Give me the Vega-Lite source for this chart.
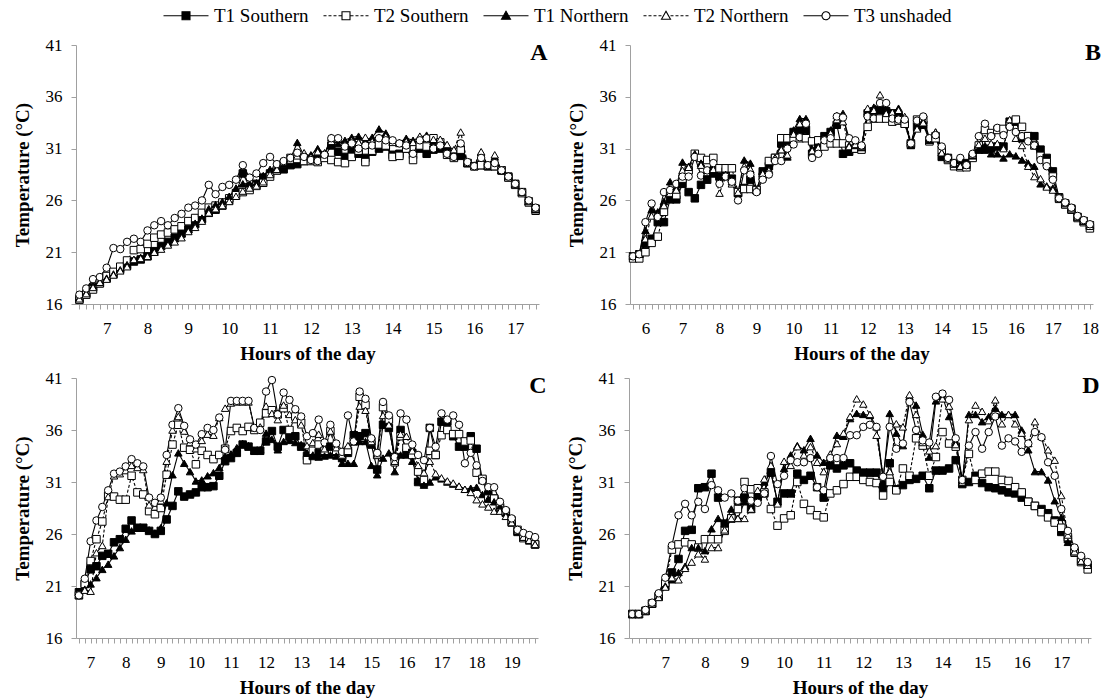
{
  "$schema": "https://vega.github.io/schema/vega-lite/v6.json",
  "padding": {"left": 13, "top": 6, "right": 2, "bottom": 2},
  "background": "white",
  "datasets": {
    "A": [
      {"m":380,"T1S":16.5,"T2S":16.4,"T1N":16.6,"T2N":16.5,"T3":16.9},
      {"m":390,"T1S":17.0,"T2S":16.9,"T1N":17.1,"T2N":17.0,"T3":17.5},
      {"m":400,"T1S":17.6,"T2S":17.4,"T1N":17.7,"T2N":17.6,"T3":18.4},
      {"m":410,"T1S":18.0,"T2S":18.0,"T1N":18.2,"T2N":18.1,"T3":18.6},
      {"m":420,"T1S":18.5,"T2S":18.7,"T1N":18.5,"T2N":18.4,"T3":19.5},
      {"m":430,"T1S":18.9,"T2S":19.1,"T1N":18.9,"T2N":18.8,"T3":21.4},
      {"m":440,"T1S":19.4,"T2S":19.6,"T1N":19.3,"T2N":19.2,"T3":21.3},
      {"m":450,"T1S":19.7,"T2S":20.2,"T1N":19.8,"T2N":19.6,"T3":22.0},
      {"m":460,"T1S":20.1,"T2S":21.2,"T1N":20.3,"T2N":20.3,"T3":22.3},
      {"m":470,"T1S":20.3,"T2S":21.3,"T1N":20.5,"T2N":20.4,"T3":22.0},
      {"m":480,"T1S":20.6,"T2S":21.8,"T1N":20.7,"T2N":20.6,"T3":23.1},
      {"m":490,"T1S":21.1,"T2S":22.4,"T1N":21.0,"T2N":21.0,"T3":23.6},
      {"m":500,"T1S":21.6,"T2S":22.7,"T1N":21.6,"T2N":21.3,"T3":24.0},
      {"m":510,"T1S":22.0,"T2S":22.9,"T1N":21.9,"T2N":21.7,"T3":23.6},
      {"m":520,"T1S":22.4,"T2S":23.2,"T1N":22.3,"T2N":22.0,"T3":24.3},
      {"m":530,"T1S":22.8,"T2S":23.5,"T1N":22.8,"T2N":22.4,"T3":24.7},
      {"m":540,"T1S":23.2,"T2S":24.0,"T1N":23.2,"T2N":23.0,"T3":25.3},
      {"m":550,"T1S":23.7,"T2S":24.3,"T1N":23.8,"T2N":23.4,"T3":25.5},
      {"m":560,"T1S":24.2,"T2S":24.8,"T1N":24.3,"T2N":24.0,"T3":26.0},
      {"m":570,"T1S":24.8,"T2S":25.3,"T1N":25.2,"T2N":24.8,"T3":27.5},
      {"m":580,"T1S":25.1,"T2S":25.5,"T1N":25.6,"T2N":25.2,"T3":26.6},
      {"m":590,"T1S":25.5,"T2S":25.8,"T1N":25.9,"T2N":25.5,"T3":27.3},
      {"m":600,"T1S":26.0,"T2S":26.2,"T1N":26.4,"T2N":25.9,"T3":27.5},
      {"m":610,"T1S":26.7,"T2S":26.5,"T1N":27.2,"T2N":26.4,"T3":28.0},
      {"m":620,"T1S":28.6,"T2S":26.8,"T1N":27.6,"T2N":26.9,"T3":29.4},
      {"m":630,"T1S":27.3,"T2S":27.0,"T1N":27.6,"T2N":27.2,"T3":28.2},
      {"m":640,"T1S":27.6,"T2S":27.4,"T1N":27.7,"T2N":27.4,"T3":28.6},
      {"m":650,"T1S":28.2,"T2S":27.7,"T1N":28.4,"T2N":27.8,"T3":29.6},
      {"m":660,"T1S":28.6,"T2S":28.3,"T1N":29.0,"T2N":28.5,"T3":30.2},
      {"m":670,"T1S":28.9,"T2S":28.9,"T1N":29.2,"T2N":29.0,"T3":29.5},
      {"m":680,"T1S":29.0,"T2S":29.5,"T1N":29.5,"T2N":29.7,"T3":29.8},
      {"m":690,"T1S":29.4,"T2S":30.1,"T1N":30.0,"T2N":29.9,"T3":30.1},
      {"m":700,"T1S":29.5,"T2S":30.0,"T1N":31.6,"T2N":30.3,"T3":30.6},
      {"m":710,"T1S":29.8,"T2S":29.8,"T1N":30.3,"T2N":30.6,"T3":30.2},
      {"m":720,"T1S":29.9,"T2S":29.8,"T1N":30.4,"T2N":30.2,"T3":29.9},
      {"m":730,"T1S":30.0,"T2S":29.7,"T1N":31.0,"T2N":30.7,"T3":29.8},
      {"m":740,"T1S":30.2,"T2S":30.1,"T1N":30.5,"T2N":30.6,"T3":30.4},
      {"m":750,"T1S":31.3,"T2S":29.9,"T1N":32.1,"T2N":31.7,"T3":32.0},
      {"m":760,"T1S":30.7,"T2S":29.7,"T1N":31.5,"T2N":31.9,"T3":32.0},
      {"m":770,"T1S":30.2,"T2S":29.6,"T1N":31.8,"T2N":31.4,"T3":31.2},
      {"m":780,"T1S":30.9,"T2S":30.2,"T1N":32.1,"T2N":31.8,"T3":31.5},
      {"m":790,"T1S":30.5,"T2S":30.8,"T1N":32.2,"T2N":31.6,"T3":31.0},
      {"m":800,"T1S":30.1,"T2S":29.7,"T1N":31.8,"T2N":32.1,"T3":31.3},
      {"m":810,"T1S":30.7,"T2S":30.8,"T1N":32.1,"T2N":31.7,"T3":31.3},
      {"m":820,"T1S":31.0,"T2S":31.4,"T1N":32.9,"T2N":32.1,"T3":32.0},
      {"m":830,"T1S":31.2,"T2S":31.3,"T1N":32.5,"T2N":32.2,"T3":31.8},
      {"m":840,"T1S":30.4,"T2S":30.2,"T1N":31.7,"T2N":31.6,"T3":31.8},
      {"m":850,"T1S":30.5,"T2S":30.3,"T1N":31.6,"T2N":31.5,"T3":31.5},
      {"m":860,"T1S":31.0,"T2S":31.0,"T1N":32.0,"T2N":31.7,"T3":31.3},
      {"m":870,"T1S":30.4,"T2S":29.9,"T1N":31.8,"T2N":31.6,"T3":30.5},
      {"m":880,"T1S":31.0,"T2S":31.3,"T1N":32.1,"T2N":32.2,"T3":31.8},
      {"m":890,"T1S":30.5,"T2S":31.2,"T1N":32.3,"T2N":32.0,"T3":32.0},
      {"m":900,"T1S":30.9,"T2S":32.0,"T1N":31.7,"T2N":31.9,"T3":31.0},
      {"m":910,"T1S":31.0,"T2S":31.6,"T1N":31.7,"T2N":31.9,"T3":31.3},
      {"m":920,"T1S":30.7,"T2S":30.4,"T1N":31.3,"T2N":31.4,"T3":30.5},
      {"m":930,"T1S":30.2,"T2S":30.1,"T1N":30.8,"T2N":30.9,"T3":30.2},
      {"m":940,"T1S":30.3,"T2S":30.9,"T1N":31.5,"T2N":32.6,"T3":31.5},
      {"m":950,"T1S":29.6,"T2S":29.6,"T1N":29.6,"T2N":29.6,"T3":29.7},
      {"m":960,"T1S":29.3,"T2S":29.3,"T1N":29.4,"T2N":29.4,"T3":29.3},
      {"m":970,"T1S":29.4,"T2S":29.4,"T1N":30.6,"T2N":30.7,"T3":30.1},
      {"m":980,"T1S":29.3,"T2S":29.3,"T1N":29.4,"T2N":29.3,"T3":29.4},
      {"m":990,"T1S":29.3,"T2S":29.3,"T1N":30.2,"T2N":30.4,"T3":29.6},
      {"m":1000,"T1S":28.9,"T2S":28.9,"T1N":28.9,"T2N":28.9,"T3":28.9},
      {"m":1010,"T1S":28.3,"T2S":28.2,"T1N":28.4,"T2N":28.3,"T3":28.3},
      {"m":1020,"T1S":27.6,"T2S":27.5,"T1N":27.6,"T2N":27.6,"T3":27.6},
      {"m":1030,"T1S":26.8,"T2S":26.7,"T1N":26.8,"T2N":26.8,"T3":26.8},
      {"m":1040,"T1S":25.9,"T2S":25.8,"T1N":25.9,"T2N":25.9,"T3":26.0},
      {"m":1050,"T1S":25.2,"T2S":25.0,"T1N":25.1,"T2N":25.2,"T3":25.3}
    ],
    "B": [
      {"m":340,"T1S":20.6,"T2S":20.4,"T1N":20.7,"T2N":20.6,"T3":20.6},
      {"m":350,"T1S":20.8,"T2S":20.4,"T1N":20.9,"T2N":20.8,"T3":20.8},
      {"m":360,"T1S":21.8,"T2S":21.0,"T1N":23.1,"T2N":22.3,"T3":23.9},
      {"m":370,"T1S":22.3,"T2S":21.9,"T1N":25.1,"T2N":24.5,"T3":25.7},
      {"m":380,"T1S":23.9,"T2S":22.5,"T1N":24.9,"T2N":24.6,"T3":24.4},
      {"m":390,"T1S":23.9,"T2S":24.9,"T1N":25.9,"T2N":25.5,"T3":26.8},
      {"m":400,"T1S":26.1,"T2S":26.7,"T1N":27.8,"T2N":26.7,"T3":27.0},
      {"m":410,"T1S":26.1,"T2S":26.5,"T1N":27.3,"T2N":27.0,"T3":27.6},
      {"m":420,"T1S":27.6,"T2S":28.1,"T1N":29.7,"T2N":28.9,"T3":28.3},
      {"m":430,"T1S":26.8,"T2S":28.9,"T1N":29.3,"T2N":29.2,"T3":28.3},
      {"m":440,"T1S":26.2,"T2S":30.5,"T1N":30.5,"T2N":30.3,"T3":30.2},
      {"m":450,"T1S":27.5,"T2S":30.1,"T1N":29.6,"T2N":29.4,"T3":28.4},
      {"m":460,"T1S":28.0,"T2S":29.9,"T1N":28.9,"T2N":28.7,"T3":28.9},
      {"m":470,"T1S":28.6,"T2S":30.1,"T1N":29.4,"T2N":29.0,"T3":29.6},
      {"m":480,"T1S":28.3,"T2S":29.1,"T1N":28.3,"T2N":26.7,"T3":27.6},
      {"m":490,"T1S":28.8,"T2S":29.1,"T1N":28.5,"T2N":28.3,"T3":28.3},
      {"m":500,"T1S":28.1,"T2S":29.1,"T1N":27.8,"T2N":27.6,"T3":27.8},
      {"m":510,"T1S":26.7,"T2S":26.8,"T1N":26.7,"T2N":26.8,"T3":26.0},
      {"m":520,"T1S":27.2,"T2S":27.1,"T1N":29.9,"T2N":29.3,"T3":28.9},
      {"m":530,"T1S":28.0,"T2S":27.1,"T1N":29.6,"T2N":29.0,"T3":28.5},
      {"m":540,"T1S":27.0,"T2S":27.0,"T1N":27.0,"T2N":27.0,"T3":26.8},
      {"m":550,"T1S":28.8,"T2S":28.3,"T1N":28.8,"T2N":28.6,"T3":28.0},
      {"m":560,"T1S":29.3,"T2S":29.8,"T1N":29.0,"T2N":28.9,"T3":28.5},
      {"m":570,"T1S":30.1,"T2S":30.1,"T1N":30.1,"T2N":30.1,"T3":29.8},
      {"m":580,"T1S":31.5,"T2S":32.0,"T1N":30.9,"T2N":30.9,"T3":29.8},
      {"m":590,"T1S":31.5,"T2S":32.0,"T1N":30.2,"T2N":30.4,"T3":31.0},
      {"m":600,"T1S":32.6,"T2S":32.0,"T1N":32.8,"T2N":32.4,"T3":31.4},
      {"m":610,"T1S":32.8,"T2S":32.0,"T1N":33.9,"T2N":33.4,"T3":32.1},
      {"m":620,"T1S":32.8,"T2S":32.0,"T1N":33.9,"T2N":33.5,"T3":33.4},
      {"m":630,"T1S":30.5,"T2S":31.7,"T1N":31.0,"T2N":30.8,"T3":30.1},
      {"m":640,"T1S":31.2,"T2S":31.8,"T1N":31.2,"T2N":31.1,"T3":30.5},
      {"m":650,"T1S":32.2,"T2S":31.2,"T1N":32.2,"T2N":31.9,"T3":31.8},
      {"m":660,"T1S":32.6,"T2S":31.5,"T1N":32.8,"T2N":32.5,"T3":32.0},
      {"m":670,"T1S":33.3,"T2S":31.5,"T1N":34.2,"T2N":33.8,"T3":34.1},
      {"m":680,"T1S":30.5,"T2S":31.5,"T1N":34.4,"T2N":33.6,"T3":34.0},
      {"m":690,"T1S":30.7,"T2S":31.3,"T1N":31.3,"T2N":31.2,"T3":32.0},
      {"m":700,"T1S":31.0,"T2S":31.0,"T1N":31.3,"T2N":31.4,"T3":31.8},
      {"m":710,"T1S":31.0,"T2S":30.9,"T1N":31.1,"T2N":31.2,"T3":31.3},
      {"m":720,"T1S":34.4,"T2S":33.1,"T1N":34.6,"T2N":34.9,"T3":34.1},
      {"m":730,"T1S":34.6,"T2S":33.9,"T1N":35.0,"T2N":34.7,"T3":33.9},
      {"m":740,"T1S":34.7,"T2S":33.9,"T1N":35.0,"T2N":36.2,"T3":35.4},
      {"m":750,"T1S":34.6,"T2S":33.9,"T1N":34.7,"T2N":34.4,"T3":35.4},
      {"m":760,"T1S":34.4,"T2S":33.6,"T1N":34.5,"T2N":34.5,"T3":33.9},
      {"m":770,"T1S":34.2,"T2S":33.7,"T1N":34.9,"T2N":34.7,"T3":33.8},
      {"m":780,"T1S":33.4,"T2S":33.4,"T1N":33.9,"T2N":34.1,"T3":33.8},
      {"m":790,"T1S":31.5,"T2S":31.4,"T1N":31.3,"T2N":31.6,"T3":31.5},
      {"m":800,"T1S":33.1,"T2S":33.8,"T1N":33.0,"T2N":32.9,"T3":33.7},
      {"m":810,"T1S":33.3,"T2S":33.8,"T1N":33.7,"T2N":33.5,"T3":34.1},
      {"m":820,"T1S":31.8,"T2S":31.7,"T1N":31.8,"T2N":32.0,"T3":32.0},
      {"m":830,"T1S":32.2,"T2S":32.0,"T1N":32.6,"T2N":32.6,"T3":32.3},
      {"m":840,"T1S":30.2,"T2S":30.9,"T1N":30.6,"T2N":30.6,"T3":31.2},
      {"m":850,"T1S":30.1,"T2S":29.9,"T1N":30.2,"T2N":30.0,"T3":30.1},
      {"m":860,"T1S":29.6,"T2S":29.3,"T1N":29.6,"T2N":29.5,"T3":29.6},
      {"m":870,"T1S":29.6,"T2S":29.2,"T1N":29.5,"T2N":29.3,"T3":30.1},
      {"m":880,"T1S":29.6,"T2S":29.2,"T1N":29.5,"T2N":29.4,"T3":29.4},
      {"m":890,"T1S":30.2,"T2S":30.1,"T1N":30.3,"T2N":30.4,"T3":30.5},
      {"m":900,"T1S":30.9,"T2S":31.3,"T1N":31.0,"T2N":31.4,"T3":32.2},
      {"m":910,"T1S":30.9,"T2S":32.8,"T1N":31.3,"T2N":32.0,"T3":33.4},
      {"m":920,"T1S":31.0,"T2S":32.5,"T1N":30.5,"T2N":31.5,"T3":32.2},
      {"m":930,"T1S":31.2,"T2S":32.8,"T1N":30.5,"T2N":31.5,"T3":33.0},
      {"m":940,"T1S":31.2,"T2S":32.9,"T1N":30.1,"T2N":31.0,"T3":32.3},
      {"m":950,"T1S":33.6,"T2S":33.3,"T1N":30.5,"T2N":33.8,"T3":33.1},
      {"m":960,"T1S":33.6,"T2S":33.8,"T1N":30.3,"T2N":32.0,"T3":32.6},
      {"m":970,"T1S":32.0,"T2S":33.1,"T1N":29.9,"T2N":31.3,"T3":32.2},
      {"m":980,"T1S":32.2,"T2S":32.2,"T1N":29.6,"T2N":29.3,"T3":31.7},
      {"m":990,"T1S":32.2,"T2S":31.3,"T1N":29.3,"T2N":28.3,"T3":31.3},
      {"m":1000,"T1S":30.9,"T2S":30.3,"T1N":27.6,"T2N":28.1,"T3":29.9},
      {"m":1010,"T1S":30.1,"T2S":29.7,"T1N":27.4,"T2N":27.3,"T3":29.3},
      {"m":1020,"T1S":28.8,"T2S":28.3,"T1N":27.2,"T2N":27.0,"T3":28.0},
      {"m":1030,"T1S":26.3,"T2S":26.2,"T1N":26.2,"T2N":26.1,"T3":26.2},
      {"m":1040,"T1S":25.7,"T2S":25.6,"T1N":25.7,"T2N":25.7,"T3":25.8},
      {"m":1050,"T1S":25.2,"T2S":25.1,"T1N":25.2,"T2N":25.2,"T3":25.3},
      {"m":1060,"T1S":24.4,"T2S":24.3,"T1N":24.4,"T2N":24.4,"T3":24.5},
      {"m":1070,"T1S":24.0,"T2S":23.9,"T1N":24.0,"T2N":24.0,"T3":24.1},
      {"m":1080,"T1S":23.6,"T2S":23.3,"T1N":23.6,"T2N":23.5,"T3":23.7}
    ],
    "C": [
      {"m":400,"T1S":20.4,"T2S":20.1,"T1N":20.2,"T2N":20.1,"T3":20.1},
      {"m":410,"T1S":21.2,"T2S":21.2,"T1N":20.7,"T2N":20.6,"T3":21.7},
      {"m":420,"T1S":22.6,"T2S":23.4,"T1N":21.2,"T2N":20.5,"T3":25.3},
      {"m":430,"T1S":22.9,"T2S":25.5,"T1N":21.8,"T2N":24.2,"T3":27.3},
      {"m":440,"T1S":23.9,"T2S":27.2,"T1N":22.6,"T2N":24.9,"T3":28.6},
      {"m":450,"T1S":24.1,"T2S":29.7,"T1N":23.1,"T2N":29.6,"T3":30.2},
      {"m":460,"T1S":25.2,"T2S":29.6,"T1N":23.9,"T2N":31.6,"T3":31.8},
      {"m":470,"T1S":25.5,"T2S":29.3,"T1N":24.7,"T2N":31.8,"T3":32.0},
      {"m":480,"T1S":26.5,"T2S":29.3,"T1N":25.5,"T2N":32.1,"T3":32.5},
      {"m":490,"T1S":27.3,"T2S":31.6,"T1N":26.3,"T2N":32.6,"T3":33.2},
      {"m":500,"T1S":26.6,"T2S":30.0,"T1N":26.6,"T2N":32.4,"T3":32.8},
      {"m":510,"T1S":26.6,"T2S":29.8,"T1N":26.6,"T2N":32.2,"T3":32.5},
      {"m":520,"T1S":26.3,"T2S":28.2,"T1N":26.4,"T2N":28.8,"T3":29.5},
      {"m":530,"T1S":26.0,"T2S":27.9,"T1N":26.1,"T2N":28.6,"T3":29.0},
      {"m":540,"T1S":26.3,"T2S":28.5,"T1N":26.6,"T2N":29.2,"T3":29.5},
      {"m":550,"T1S":27.4,"T2S":31.7,"T1N":29.0,"T2N":33.0,"T3":33.6},
      {"m":560,"T1S":28.7,"T2S":34.6,"T1N":31.7,"T2N":36.0,"T3":36.5},
      {"m":570,"T1S":30.1,"T2S":36.5,"T1N":33.8,"T2N":37.3,"T3":38.1},
      {"m":580,"T1S":29.6,"T2S":34.3,"T1N":32.8,"T2N":35.9,"T3":36.4},
      {"m":590,"T1S":29.8,"T2S":34.1,"T1N":32.0,"T2N":34.8,"T3":35.1},
      {"m":600,"T1S":30.0,"T2S":32.7,"T1N":31.1,"T2N":34.2,"T3":34.6},
      {"m":610,"T1S":30.5,"T2S":34.0,"T1N":31.2,"T2N":35.0,"T3":35.6},
      {"m":620,"T1S":30.5,"T2S":33.6,"T1N":31.6,"T2N":35.6,"T3":36.2},
      {"m":630,"T1S":30.6,"T2S":33.2,"T1N":31.9,"T2N":35.5,"T3":36.0},
      {"m":640,"T1S":31.6,"T2S":33.6,"T1N":32.4,"T2N":37.2,"T3":37.2},
      {"m":650,"T1S":33.0,"T2S":34.2,"T1N":33.5,"T2N":38.1,"T3":34.1},
      {"m":660,"T1S":33.3,"T2S":35.9,"T1N":33.7,"T2N":38.6,"T3":38.8},
      {"m":670,"T1S":33.8,"T2S":36.2,"T1N":34.3,"T2N":38.7,"T3":38.8},
      {"m":680,"T1S":34.6,"T2S":35.9,"T1N":34.7,"T2N":38.7,"T3":38.8},
      {"m":690,"T1S":34.4,"T2S":36.3,"T1N":34.5,"T2N":38.7,"T3":38.8},
      {"m":700,"T1S":34.0,"T2S":36.0,"T1N":34.0,"T2N":36.2,"T3":36.2},
      {"m":710,"T1S":34.0,"T2S":36.7,"T1N":34.1,"T2N":36.3,"T3":36.0},
      {"m":720,"T1S":34.9,"T2S":37.6,"T1N":35.7,"T2N":38.3,"T3":39.7},
      {"m":730,"T1S":35.9,"T2S":37.9,"T1N":35.1,"T2N":37.6,"T3":40.8},
      {"m":740,"T1S":34.4,"T2S":37.5,"T1N":34.1,"T2N":37.0,"T3":37.5},
      {"m":750,"T1S":36.0,"T2S":38.1,"T1N":34.9,"T2N":38.4,"T3":39.6},
      {"m":760,"T1S":35.4,"T2S":36.0,"T1N":35.0,"T2N":37.5,"T3":38.9},
      {"m":770,"T1S":35.4,"T2S":37.3,"T1N":34.8,"T2N":37.0,"T3":38.0},
      {"m":780,"T1S":34.4,"T2S":36.7,"T1N":34.6,"T2N":36.5,"T3":37.3},
      {"m":790,"T1S":33.5,"T2S":33.1,"T1N":33.8,"T2N":34.5,"T3":35.4},
      {"m":800,"T1S":33.5,"T2S":34.0,"T1N":33.6,"T2N":34.8,"T3":35.7},
      {"m":810,"T1S":33.8,"T2S":34.6,"T1N":33.4,"T2N":35.6,"T3":37.0},
      {"m":820,"T1S":33.8,"T2S":34.0,"T1N":33.5,"T2N":34.2,"T3":34.8},
      {"m":830,"T1S":34.4,"T2S":35.9,"T1N":33.6,"T2N":35.9,"T3":36.5},
      {"m":840,"T1S":33.9,"T2S":34.0,"T1N":33.5,"T2N":34.3,"T3":34.7},
      {"m":850,"T1S":33.3,"T2S":33.6,"T1N":32.8,"T2N":33.6,"T3":33.9},
      {"m":860,"T1S":33.8,"T2S":34.0,"T1N":32.8,"T2N":34.5,"T3":37.4},
      {"m":870,"T1S":35.5,"T2S":34.9,"T1N":32.8,"T2N":35.0,"T3":34.9},
      {"m":880,"T1S":35.4,"T2S":39.2,"T1N":34.9,"T2N":38.3,"T3":39.7},
      {"m":890,"T1S":35.7,"T2S":38.4,"T1N":34.9,"T2N":37.9,"T3":39.0},
      {"m":900,"T1S":34.6,"T2S":34.9,"T1N":32.6,"T2N":34.9,"T3":35.2},
      {"m":910,"T1S":32.2,"T2S":33.6,"T1N":31.7,"T2N":33.6,"T3":33.8},
      {"m":920,"T1S":36.5,"T2S":38.2,"T1N":33.3,"T2N":37.4,"T3":38.7},
      {"m":930,"T1S":36.2,"T2S":37.0,"T1N":33.8,"T2N":36.5,"T3":37.4},
      {"m":940,"T1S":33.4,"T2S":32.9,"T1N":32.0,"T2N":33.0,"T3":33.4},
      {"m":950,"T1S":36.0,"T2S":35.4,"T1N":33.6,"T2N":35.6,"T3":37.6},
      {"m":960,"T1S":33.8,"T2S":34.3,"T1N":33.6,"T2N":35.4,"T3":37.0},
      {"m":970,"T1S":33.8,"T2S":33.6,"T1N":33.0,"T2N":34.0,"T3":34.6},
      {"m":980,"T1S":31.0,"T2S":32.0,"T1N":31.2,"T2N":32.6,"T3":33.6},
      {"m":990,"T1S":30.9,"T2S":31.2,"T1N":30.7,"T2N":31.9,"T3":33.1},
      {"m":1000,"T1S":36.2,"T2S":34.0,"T1N":31.0,"T2N":33.0,"T3":36.2},
      {"m":1010,"T1S":33.6,"T2S":33.6,"T1N":31.5,"T2N":31.8,"T3":34.4},
      {"m":1020,"T1S":36.8,"T2S":35.5,"T1N":31.3,"T2N":31.4,"T3":37.6},
      {"m":1030,"T1S":36.8,"T2S":36.0,"T1N":31.0,"T2N":31.1,"T3":37.0},
      {"m":1040,"T1S":35.4,"T2S":35.6,"T1N":30.8,"T2N":30.9,"T3":37.4},
      {"m":1050,"T1S":34.4,"T2S":35.6,"T1N":30.6,"T2N":30.6,"T3":36.5},
      {"m":1060,"T1S":34.4,"T2S":34.9,"T1N":30.3,"T2N":30.3,"T3":32.8},
      {"m":1070,"T1S":35.4,"T2S":35.0,"T1N":30.4,"T2N":30.0,"T3":33.8},
      {"m":1080,"T1S":34.2,"T2S":31.9,"T1N":30.5,"T2N":29.3,"T3":32.6},
      {"m":1090,"T1S":31.2,"T2S":31.3,"T1N":29.8,"T2N":28.9,"T3":31.1},
      {"m":1100,"T1S":29.8,"T2S":29.4,"T1N":29.4,"T2N":28.6,"T3":30.5},
      {"m":1110,"T1S":29.4,"T2S":29.4,"T1N":29.1,"T2N":28.2,"T3":30.5},
      {"m":1120,"T1S":28.5,"T2S":28.6,"T1N":28.7,"T2N":28.2,"T3":29.1},
      {"m":1130,"T1S":28.1,"T2S":28.1,"T1N":28.0,"T2N":27.7,"T3":28.3},
      {"m":1140,"T1S":27.3,"T2S":27.1,"T1N":27.2,"T2N":27.1,"T3":27.5},
      {"m":1150,"T1S":26.2,"T2S":26.4,"T1N":26.3,"T2N":26.3,"T3":26.4},
      {"m":1160,"T1S":25.7,"T2S":25.6,"T1N":25.7,"T2N":25.7,"T3":26.1},
      {"m":1170,"T1S":25.4,"T2S":25.4,"T1N":25.4,"T2N":25.4,"T3":25.9},
      {"m":1180,"T1S":25.0,"T2S":25.0,"T1N":25.0,"T2N":25.0,"T3":25.7}
    ],
    "D": [
      {"m":370,"T1S":18.3,"T2S":18.3,"T1N":18.3,"T2N":18.3,"T3":18.3},
      {"m":380,"T1S":18.3,"T2S":18.3,"T1N":18.3,"T2N":18.3,"T3":18.3},
      {"m":390,"T1S":18.6,"T2S":18.6,"T1N":18.6,"T2N":18.6,"T3":18.7},
      {"m":400,"T1S":19.3,"T2S":19.3,"T1N":19.3,"T2N":19.3,"T3":19.4},
      {"m":410,"T1S":20.0,"T2S":20.0,"T1N":20.0,"T2N":19.9,"T3":20.3},
      {"m":420,"T1S":21.0,"T2S":21.3,"T1N":21.0,"T2N":20.9,"T3":21.8},
      {"m":430,"T1S":22.3,"T2S":24.5,"T1N":21.6,"T2N":21.8,"T3":24.9},
      {"m":440,"T1S":23.6,"T2S":25.0,"T1N":22.3,"T2N":21.6,"T3":27.8},
      {"m":450,"T1S":26.3,"T2S":25.2,"T1N":22.9,"T2N":22.7,"T3":28.9},
      {"m":460,"T1S":26.4,"T2S":25.0,"T1N":24.7,"T2N":23.3,"T3":27.8},
      {"m":470,"T1S":30.4,"T2S":24.7,"T1N":24.7,"T2N":24.1,"T3":29.1},
      {"m":480,"T1S":30.5,"T2S":25.5,"T1N":24.4,"T2N":23.6,"T3":28.4},
      {"m":490,"T1S":31.8,"T2S":25.5,"T1N":26.5,"T2N":24.7,"T3":30.7},
      {"m":500,"T1S":29.5,"T2S":25.5,"T1N":27.5,"T2N":24.7,"T3":30.2},
      {"m":510,"T1S":27.0,"T2S":26.3,"T1N":27.0,"T2N":26.4,"T3":29.5},
      {"m":520,"T1S":27.5,"T2S":27.5,"T1N":28.4,"T2N":27.5,"T3":29.9},
      {"m":530,"T1S":29.2,"T2S":28.4,"T1N":27.5,"T2N":27.5,"T3":29.2},
      {"m":540,"T1S":29.5,"T2S":31.0,"T1N":29.1,"T2N":27.5,"T3":30.4},
      {"m":550,"T1S":28.4,"T2S":30.3,"T1N":28.4,"T2N":28.4,"T3":29.2},
      {"m":560,"T1S":29.6,"T2S":30.4,"T1N":29.5,"T2N":30.2,"T3":29.0},
      {"m":570,"T1S":29.9,"T2S":30.0,"T1N":31.0,"T2N":31.3,"T3":29.9},
      {"m":580,"T1S":31.9,"T2S":28.4,"T1N":31.9,"T2N":32.6,"T3":33.5},
      {"m":590,"T1S":29.1,"T2S":26.8,"T1N":29.1,"T2N":28.9,"T3":30.8},
      {"m":600,"T1S":29.9,"T2S":27.5,"T1N":32.3,"T2N":33.0,"T3":31.6},
      {"m":610,"T1S":29.9,"T2S":27.8,"T1N":33.6,"T2N":32.6,"T3":33.1},
      {"m":620,"T1S":31.8,"T2S":31.0,"T1N":34.5,"T2N":34.4,"T3":32.9},
      {"m":630,"T1S":31.2,"T2S":28.9,"T1N":34.1,"T2N":33.6,"T3":32.9},
      {"m":640,"T1S":31.6,"T2S":28.3,"T1N":35.2,"T2N":34.4,"T3":33.3},
      {"m":650,"T1S":30.5,"T2S":27.8,"T1N":33.6,"T2N":32.9,"T3":30.5},
      {"m":660,"T1S":29.5,"T2S":27.6,"T1N":32.9,"T2N":32.0,"T3":30.2},
      {"m":670,"T1S":32.6,"T2S":29.9,"T1N":33.4,"T2N":33.7,"T3":33.3},
      {"m":680,"T1S":32.3,"T2S":30.2,"T1N":35.5,"T2N":34.7,"T3":33.3},
      {"m":690,"T1S":32.6,"T2S":30.8,"T1N":35.4,"T2N":35.7,"T3":33.3},
      {"m":700,"T1S":32.8,"T2S":31.5,"T1N":37.1,"T2N":37.3,"T3":35.5},
      {"m":710,"T1S":32.1,"T2S":31.5,"T1N":37.6,"T2N":39.0,"T3":35.5},
      {"m":720,"T1S":31.9,"T2S":31.2,"T1N":37.5,"T2N":38.5,"T3":36.3},
      {"m":730,"T1S":31.9,"T2S":31.0,"T1N":37.4,"T2N":37.5,"T3":36.5},
      {"m":740,"T1S":31.9,"T2S":30.9,"T1N":36.3,"T2N":35.5,"T3":36.3},
      {"m":750,"T1S":30.4,"T2S":29.7,"T1N":31.1,"T2N":31.7,"T3":31.5},
      {"m":760,"T1S":32.8,"T2S":31.0,"T1N":37.6,"T2N":32.0,"T3":36.3},
      {"m":770,"T1S":30.3,"T2S":30.2,"T1N":35.7,"T2N":36.6,"T3":34.2},
      {"m":780,"T1S":30.7,"T2S":32.3,"T1N":34.5,"T2N":36.3,"T3":34.7},
      {"m":790,"T1S":31.2,"T2S":31.6,"T1N":39.2,"T2N":39.4,"T3":38.7},
      {"m":800,"T1S":31.3,"T2S":35.2,"T1N":38.4,"T2N":37.5,"T3":36.0},
      {"m":810,"T1S":31.6,"T2S":34.5,"T1N":35.6,"T2N":34.8,"T3":35.0},
      {"m":820,"T1S":30.4,"T2S":31.6,"T1N":33.4,"T2N":34.0,"T3":34.8},
      {"m":830,"T1S":32.1,"T2S":33.4,"T1N":38.8,"T2N":34.5,"T3":39.2},
      {"m":840,"T1S":32.1,"T2S":35.8,"T1N":39.2,"T2N":39.0,"T3":39.5},
      {"m":850,"T1S":32.3,"T2S":34.7,"T1N":37.3,"T2N":38.3,"T3":38.9},
      {"m":860,"T1S":33.1,"T2S":34.4,"T1N":34.8,"T2N":34.6,"T3":35.2},
      {"m":870,"T1S":30.8,"T2S":31.2,"T1N":31.0,"T2N":31.0,"T3":31.2},
      {"m":880,"T1S":31.0,"T2S":33.7,"T1N":37.5,"T2N":37.0,"T3":34.5},
      {"m":890,"T1S":31.6,"T2S":31.2,"T1N":37.5,"T2N":38.4,"T3":35.8},
      {"m":900,"T1S":30.9,"T2S":31.8,"T1N":36.8,"T2N":37.8,"T3":34.2},
      {"m":910,"T1S":30.5,"T2S":32.0,"T1N":37.3,"T2N":36.9,"T3":35.8},
      {"m":920,"T1S":30.4,"T2S":32.0,"T1N":38.1,"T2N":38.9,"T3":37.3},
      {"m":930,"T1S":30.2,"T2S":31.2,"T1N":37.5,"T2N":36.6,"T3":34.5},
      {"m":940,"T1S":30.0,"T2S":31.1,"T1N":37.5,"T2N":37.5,"T3":35.2},
      {"m":950,"T1S":29.9,"T2S":30.5,"T1N":37.5,"T2N":36.6,"T3":34.9},
      {"m":960,"T1S":29.5,"T2S":30.0,"T1N":36.0,"T2N":35.7,"T3":33.9},
      {"m":970,"T1S":29.1,"T2S":29.1,"T1N":34.1,"T2N":34.7,"T3":34.7},
      {"m":980,"T1S":28.7,"T2S":28.7,"T1N":32.0,"T2N":36.8,"T3":35.8},
      {"m":990,"T1S":28.4,"T2S":28.1,"T1N":32.0,"T2N":35.4,"T3":35.3},
      {"m":1000,"T1S":28.0,"T2S":27.6,"T1N":31.2,"T2N":34.1,"T3":32.9},
      {"m":1010,"T1S":27.3,"T2S":27.1,"T1N":29.2,"T2N":33.1,"T3":31.6},
      {"m":1020,"T1S":26.2,"T2S":26.6,"T1N":27.6,"T2N":29.7,"T3":28.4},
      {"m":1030,"T1S":25.5,"T2S":25.7,"T1N":25.2,"T2N":25.9,"T3":26.3},
      {"m":1040,"T1S":24.4,"T2S":24.2,"T1N":24.3,"T2N":24.3,"T3":24.7},
      {"m":1050,"T1S":23.5,"T2S":23.3,"T1N":23.4,"T2N":23.4,"T3":23.9},
      {"m":1060,"T1S":23.0,"T2S":22.6,"T1N":23.0,"T2N":23.0,"T3":23.3}
    ]
  },
  "vconcat": [
    {
      "hconcat": [
        {
          "width": 463, "height": 259,
          "data": {"name": "A"},
          "layer": [
            {
              "transform": [{"fold": ["T1S","T2S","T1N","T2N","T3"], "as": ["s","t"]}],
              "mark": {"type": "line", "color": "black"},
              "encoding": {
                "x": {"field": "m", "type": "quantitative", "scale": {"domain": [375,1055], "nice": false, "zero": false}, "axis": {"title": "Hours of the day", "tickCount": 68, "labelExpr": "datum.value % 60 == 0 ? datum.value / 60 : ''", "labelOverlap": false, "labelFlush": false, "labelBound": false}},
                "y": {"field": "t", "type": "quantitative", "scale": {"domain": [16,41], "nice": false, "zero": false}, "axis": {"title": "Temperature (°C)", "values": [16,21,26,31,36,41]}},
                "detail": {"field": "s"},
                "strokeDash": {"field": "s", "type": "nominal", "scale": {"domain": ["T1S","T2S","T1N","T2N","T3"], "range": [[1,0],[3,2],[1,0],[3,2],[1,0]]}, "legend": null},
                "strokeWidth": {"field": "s", "type": "nominal", "sort": ["T1S","T2S","T1N","T2N","T3"], "scale": {"range": [1.1, 1.1]},
                  "legend": {
                    "title": null, "orient": "none", "legendX": 85, "legendY": -39, "direction": "horizontal", "columns": 5,
                    "symbolSize": 196, "labelFont": "Liberation Serif", "labelFontSize": 19, "labelColor": "black", "labelOffset": 34, "columnPadding": 12,
                    "symbolStrokeColor": "black", "symbolDash": [1, 0], "symbolOpacity": 1,
                    "symbolType": {"expr": "datum.value == 'T1S' ? 'M-1,0H1.643M2.786,0H5.429M1.643,-0.571H2.786V0.571H1.643Z' : datum.value == 'T2S' ? 'M-1,0H-0.571M-0.286,0H0.143M0.429,0H0.857M1.143,0H1.571M2.857,0H3.286M3.571,0H4M4.286,0H4.714M5,0H5.429M1.643,-0.571H2.786V0.571H1.643Z' : datum.value == 'T1N' ? 'M-1,0H1.85M2.58,0H5.429M2.214,-0.643L2.857,0.5H1.571Z' : datum.value == 'T2N' ? 'M-1,0H-0.571M-0.286,0H0.143M0.429,0H0.857M1.143,0H1.571M2.857,0H3.286M3.571,0H4M4.286,0H4.714M5,0H5.429M2.214,-0.643L2.857,0.5H1.571Z' : 'M-1,0H1.643M2.786,0H5.429M1.643,0A0.571,0.571,0,1,0,2.786,0A0.571,0.571,0,1,0,1.643,0Z'"},
                    "symbolFillColor": {"expr": "datum.value == 'T1S' || datum.value == 'T1N' ? 'black' : 'white'"},
                    "labelExpr": "datum.label == 'T1S' ? 'T1 Southern' : datum.label == 'T2S' ? 'T2 Southern' : datum.label == 'T1N' ? 'T1 Northern' : datum.label == 'T2N' ? 'T2 Northern' : 'T3 unshaded'"
                  }
                }
              }
            },
            {
              "transform": [{"fold": ["T1S","T2S","T1N","T2N","T3"], "as": ["s","t"]}],
              "mark": {"type": "point", "filled": true, "stroke": "black", "strokeWidth": 1, "size": 56, "opacity": 1},
              "encoding": {
                "x": {"field": "m", "type": "quantitative"},
                "y": {"field": "t", "type": "quantitative"},
                "shape": {"field": "s", "type": "nominal", "scale": {"domain": ["T1S","T2S","T1N","T2N","T3"], "range": ["square","square","triangle-up","triangle-up","circle"]}, "legend": null},
                "fill": {"field": "s", "type": "nominal", "scale": {"domain": ["T1S","T2S","T1N","T2N","T3"], "range": ["black","white","black","white","white"]}, "legend": null}
              }
            },
            {
              "data": {"values": [{"L": "A"}]},
              "mark": {"type": "text", "font": "Liberation Serif", "fontSize": 24, "fontWeight": "bold", "align": "center", "baseline": "middle", "color": "black"},
              "encoding": {"x": {"datum": 1055}, "y": {"datum": 40.2}, "text": {"field": "L"}}
            }
          ]
        },
        {
          "width": 463, "height": 259,
          "data": {"name": "B"},
          "layer": [
            {
              "transform": [{"fold": ["T1S","T2S","T1N","T2N","T3"], "as": ["s","t"]}],
              "mark": {"type": "line", "color": "black", "strokeWidth": 1.1},
              "encoding": {
                "x": {"field": "m", "type": "quantitative", "scale": {"domain": [335,1085], "nice": false, "zero": false}, "axis": {"title": "Hours of the day", "tickCount": 75, "labelExpr": "datum.value % 60 == 0 ? datum.value / 60 : ''", "labelOverlap": false, "labelFlush": false, "labelBound": false}},
                "y": {"field": "t", "type": "quantitative", "scale": {"domain": [16,41], "nice": false, "zero": false}, "axis": {"title": "Temperature (°C)", "values": [16,21,26,31,36,41]}},
                "detail": {"field": "s"},
                "strokeDash": {"field": "s", "type": "nominal"}
              }
            },
            {
              "transform": [{"fold": ["T1S","T2S","T1N","T2N","T3"], "as": ["s","t"]}],
              "mark": {"type": "point", "filled": true, "stroke": "black", "strokeWidth": 1, "size": 56, "opacity": 1},
              "encoding": {
                "x": {"field": "m", "type": "quantitative"},
                "y": {"field": "t", "type": "quantitative"},
                "shape": {"field": "s", "type": "nominal"},
                "fill": {"field": "s", "type": "nominal"}
              }
            },
            {
              "data": {"values": [{"L": "B"}]},
              "mark": {"type": "text", "font": "Liberation Serif", "fontSize": 24, "fontWeight": "bold", "align": "center", "baseline": "middle", "color": "black"},
              "encoding": {"x": {"datum": 1085}, "y": {"datum": 40.2}, "text": {"field": "L"}}
            }
          ]
        }
      ],
      "spacing": 19
    },
    {
      "hconcat": [
        {
          "width": 462, "height": 260,
          "data": {"name": "C"},
          "layer": [
            {
              "transform": [{"fold": ["T1S","T2S","T1N","T2N","T3"], "as": ["s","t"]}],
              "mark": {"type": "line", "color": "black", "strokeWidth": 1.1},
              "encoding": {
                "x": {"field": "m", "type": "quantitative", "scale": {"domain": [395,1185], "nice": false, "zero": false}, "axis": {"title": "Hours of the day", "tickCount": 79, "labelExpr": "datum.value % 60 == 0 ? datum.value / 60 : ''", "labelOverlap": false, "labelFlush": false, "labelBound": false}},
                "y": {"field": "t", "type": "quantitative", "scale": {"domain": [16,41], "nice": false, "zero": false}, "axis": {"title": "Temperature (°C)", "values": [16,21,26,31,36,41]}},
                "detail": {"field": "s"},
                "strokeDash": {"field": "s", "type": "nominal"}
              }
            },
            {
              "transform": [{"fold": ["T1S","T2S","T1N","T2N","T3"], "as": ["s","t"]}],
              "mark": {"type": "point", "filled": true, "stroke": "black", "strokeWidth": 1, "size": 56, "opacity": 1},
              "encoding": {
                "x": {"field": "m", "type": "quantitative"},
                "y": {"field": "t", "type": "quantitative"},
                "shape": {"field": "s", "type": "nominal"},
                "fill": {"field": "s", "type": "nominal"}
              }
            },
            {
              "data": {"values": [{"L": "C"}]},
              "mark": {"type": "text", "font": "Liberation Serif", "fontSize": 24, "fontWeight": "bold", "align": "center", "baseline": "middle", "color": "black"},
              "encoding": {"x": {"datum": 1185}, "y": {"datum": 40.2}, "text": {"field": "L"}}
            }
          ]
        },
        {
          "width": 462, "height": 260,
          "data": {"name": "D"},
          "layer": [
            {
              "transform": [{"fold": ["T1S","T2S","T1N","T2N","T3"], "as": ["s","t"]}],
              "mark": {"type": "line", "color": "black", "strokeWidth": 1.1},
              "encoding": {
                "x": {"field": "m", "type": "quantitative", "scale": {"domain": [365,1065], "nice": false, "zero": false}, "axis": {"title": "Hours of the day", "tickCount": 70, "labelExpr": "datum.value % 60 == 0 ? datum.value / 60 : ''", "labelOverlap": false, "labelFlush": false, "labelBound": false}},
                "y": {"field": "t", "type": "quantitative", "scale": {"domain": [16,41], "nice": false, "zero": false}, "axis": {"title": "Temperature (°C)", "values": [16,21,26,31,36,41]}},
                "detail": {"field": "s"},
                "strokeDash": {"field": "s", "type": "nominal"}
              }
            },
            {
              "transform": [{"fold": ["T1S","T2S","T1N","T2N","T3"], "as": ["s","t"]}],
              "mark": {"type": "point", "filled": true, "stroke": "black", "strokeWidth": 1, "size": 56, "opacity": 1},
              "encoding": {
                "x": {"field": "m", "type": "quantitative"},
                "y": {"field": "t", "type": "quantitative"},
                "shape": {"field": "s", "type": "nominal"},
                "fill": {"field": "s", "type": "nominal"}
              }
            },
            {
              "data": {"values": [{"L": "D"}]},
              "mark": {"type": "text", "font": "Liberation Serif", "fontSize": 24, "fontWeight": "bold", "align": "center", "baseline": "middle", "color": "black"},
              "encoding": {"x": {"datum": 1065}, "y": {"datum": 40.2}, "text": {"field": "L"}}
            }
          ]
        }
      ],
      "spacing": 19
    }
  ],
  "spacing": 6,
  "config": {
    "view": {"stroke": null},
    "font": "Liberation Serif",
    "axis": {"grid": false, "domainColor": "#a0a0a0", "tickColor": "#a0a0a0", "tickSize": 5, "labelFont": "Liberation Serif", "labelFontSize": 17, "labelColor": "black", "titleFont": "Liberation Serif", "titleFontSize": 19, "titleFontWeight": "bold", "titleColor": "black"},
    "axisX": {"labelPadding": 11, "titlePadding": 8},
    "axisY": {"labelPadding": 9, "titlePadding": 13}
  }
}
